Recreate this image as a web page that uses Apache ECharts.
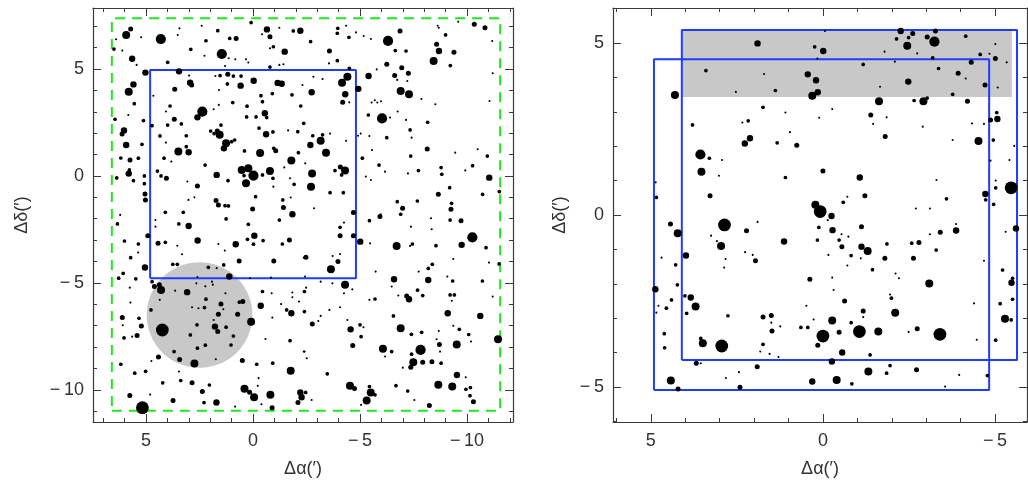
<!DOCTYPE html>
<html><head><meta charset="utf-8">
<script src="https://cdn.jsdelivr.net/npm/echarts@6/dist/echarts.min.js"></script>
<style>html,body{margin:0;padding:0;background:#fff}#c{width:1028px;height:487px}</style>
</head><body><div id="c"></div>
<script>
// ---- data: stars as [dAlpha, dDelta, brightnessClass] ----
const leftStars = [
[0.09,7.17,2],[5.72,6.87,3],[5.93,6.59,5],[3.44,6.90,1],[2.40,7.02,1],[1.65,6.79,2],[-0.65,6.85,4],[-1.23,6.93,1],[-1.88,6.78,2],[-2.21,6.79,4],[-0.79,6.51,3],[-0.42,6.62,1],[4.31,6.40,6],[5.23,6.48,1],[3.52,6.59,1],[2.20,6.32,2],[1.09,6.43,2],[0.79,6.43,3],[6.40,6.39,1],[6.50,5.93,2],[6.11,5.86,1],[2.91,5.92,2],[1.46,5.70,6],[1.14,5.50,1],[0.83,5.45,1],[0.33,5.45,1],[-0.95,6.04,2],[-0.79,5.97,1],[-1.48,5.81,4],[5.65,5.48,4],[5.44,5.19,1],[3.99,5.31,2],[2.27,5.62,1],[1.31,5.14,1],[0.22,5.30,1],[-0.79,5.09,2],[-1.23,5.19,1],[-1.42,5.22,1],[5.03,4.83,4],[3.46,4.89,4],[2.99,4.69,1],[1.76,4.67,1],[1.54,4.69,2],[1.18,4.75,3],[0.92,4.67,2],[0.56,4.67,2],[0.58,4.22,4],[-0.03,4.45,4],[-1.15,4.35,4],[-1.34,4.31,4],[-2.31,4.25,1],[2.94,4.36,4],[2.87,4.25,3],[5.59,4.28,4],[5.81,3.94,5],[4.66,3.75,1],[3.66,4.05,3],[1.20,4.30,2],[1.59,4.02,1],[-0.37,3.75,2],[-0.90,3.85,2],[-1.82,3.79,2],[-0.44,3.47,2],[0.95,3.43,2],[5.55,3.38,2],[5.83,2.85,1],[6.45,2.65,2],[3.88,3.27,2],[4.07,3.01,1],[2.37,3.01,6],[2.60,2.74,4],[2.24,2.93,2],[1.84,3.12,1],[1.60,3.32,1],[0.28,3.26,2],[-0.55,2.93,4],[-2.23,3.27,2],[5.12,2.59,2],[3.68,2.65,3],[3.99,2.38,2],[3.35,2.43,2],[0.30,2.76,2],[-0.14,2.76,2],[-0.64,2.73,2],[-2.37,2.46,2],[4.72,2.35,2],[6.03,2.13,4],[6.12,1.96,3],[1.50,2.38,2],[1.67,2.10,3],[1.56,1.92,5],[1.98,2.10,2],[1.82,1.98,2],[3.12,1.88,2],[4.35,1.87,2],[-0.28,2.24,2],[-0.61,1.95,4],[-0.93,2.06,2],[-1.64,2.13,1],[-2.09,2.07,2],[5.93,1.45,4],[5.19,1.48,2],[4.07,1.56,1],[1.26,1.53,5],[1.36,1.29,4],[1.00,1.60,2],[0.86,1.68,2],[3.49,1.14,5],[3.01,1.11,4],[3.12,1.37,2],[0.40,1.17,2],[-0.33,1.07,5],[-0.97,1.29,2],[-1.06,1.18,3],[-2.12,1.09,2],[6.18,0.84,2],[5.75,0.75,3],[5.36,0.83,2],[4.16,0.83,2],[3.82,0.67,1],[2.24,0.51,2],[-1.79,0.72,5],[-1.46,0.40,1],[0.53,0.28,5],[0.22,0.36,5],[-0.02,0.02,6],[0.33,-0.34,5],[0.42,0.02,2],[-0.79,0.23,5],[-0.44,0.05,2],[1.70,0.05,4],[4.47,0.23,2],[4.30,0.00,2],[4.05,-0.11,3],[5.81,0.11,4],[5.78,0.28,2],[5.59,-0.22,2],[6.37,-0.09,2],[5.08,0.00,2],[5.08,-0.36,2],[3.07,-0.26,1],[2.60,-0.47,3],[1.17,-0.22,2],[-0.93,-0.11,2],[-0.95,-0.50,1],[-1.73,-0.11,1],[-1.92,-0.39,2],[5.05,-0.84,3],[5.03,-1.12,3],[3.02,-1.12,1],[2.74,-1.00,1],[1.73,-1.15,3],[1.62,-1.36,3],[1.31,-1.39,2],[1.15,-1.40,2],[-0.12,-0.97,2],[-1.39,-1.12,2],[-1.76,-1.01,1],[0.02,-1.54,3],[-1.42,-1.48,3],[-1.84,-1.79,4],[4.10,-1.70,2],[3.26,-1.70,2],[6.21,-1.82,1],
[-3.96,6.90,2],[-3.94,6.67,2],[-4.35,7.02,1],[-4.81,6.71,1],[-4.48,6.48,2],[-5.17,6.54,1],[-5.51,6.40,1],[-6.87,6.78,3],[-6.31,6.31,6],[-2.69,6.28,2],[-8.63,7.02,1],[-8.68,6.93,1],[-10.34,7.09,3],[-10.84,6.93,3],[-9.59,7.21,1],[-9.00,6.59,2],[-11.18,6.31,1],[-3.57,5.84,3],[-6.65,5.86,2],[-7.15,5.84,2],[-8.58,6.15,3],[-8.69,5.84,4],[-9.39,5.78,3],[-3.94,5.39,2],[-3.55,5.26,1],[-6.25,5.22,3],[-8.44,5.37,5],[-9.22,5.16,2],[-4.50,5.03,2],[-5.78,4.98,1],[-6.95,5.06,3],[-4.41,4.64,5],[-4.16,4.36,5],[-2.82,4.64,1],[-3.25,4.53,1],[-5.40,4.67,4],[-6.62,4.69,3],[-7.26,4.80,3],[-6.74,4.49,1],[-7.21,4.44,1],[-11.20,4.80,1],[-4.92,4.07,4],[-2.74,3.91,4],[-4.31,3.82,4],[-6.90,3.97,5],[-7.29,3.82,5],[-4.19,3.44,3],[-4.50,3.44,1],[-5.54,3.43,1],[-5.69,3.54,1],[-5.81,3.43,1],[-5.98,3.49,1],[-7.87,3.60,1],[-8.52,3.35,1],[-11.05,3.50,1],[-5.39,2.85,2],[-6.03,2.69,6],[-6.40,2.73,1],[-6.76,3.01,1],[-7.15,2.62,1],[-8.16,2.51,2],[-7.34,2.15,2],[-2.79,1.88,2],[-3.25,1.92,2],[-3.60,1.98,1],[-3.16,1.64,5],[-2.68,1.45,4],[-3.41,1.09,5],[-4.91,1.88,1],[-5.03,1.98,1],[-5.44,1.87,1],[-4.35,1.64,1],[-6.25,1.79,2],[-7.41,1.79,1],[-5.56,1.21,1],[-5.11,0.83,2],[-7.37,0.93,2],[-8.14,1.26,3],[-9.45,1.09,1],[-10.50,1.25,1],[-10.95,0.93,2],[-2.44,0.59,1],[-2.76,0.12,5],[-3.83,0.25,2],[-4.08,0.42,3],[-4.30,0.25,5],[-4.14,0.05,2],[-5.89,0.51,2],[-6.17,0.20,1],[-5.27,-0.03,1],[-5.51,-0.19,1],[-7.24,0.12,1],[-7.73,0.25,2],[-8.79,0.39,2],[-8.82,0.08,2],[-9.92,0.26,1],[-10.26,0.48,2],[-11.04,-0.08,4],[-11.51,-0.73,2],[-2.71,-0.50,5],[-3.60,-0.78,2],[-4.22,-0.78,2],[-9.19,-0.55,2],[-8.66,-0.86,3],[-10.73,-0.86,2],[-6.74,-1.20,2],[-6.99,-1.51,3],[-7.68,-1.17,2],[-9.28,-1.28,2],[-9.25,-1.56,3],[-2.85,-1.51,1],[-4.69,-1.71,3],[-5.97,-1.79,1],[-6.90,-1.79,2],
[6.34,-2.24,2],[4.56,-2.06,1],[3.47,-2.24,2],[3.01,-2.34,4],[1.26,-2.01,2],[0.22,-2.26,2],[-1.23,-2.06,2],[4.56,-2.37,1],[4.92,-2.79,3],[6.01,-3.04,2],[5.36,-3.18,2],[5.37,-3.58,1],[4.44,-3.15,3],[4.10,-3.10,2],[3.54,-3.26,1],[2.59,-3.02,4],[1.62,-3.18,1],[0.81,-3.19,4],[0.26,-2.96,2],[-0.02,-3.19,2],[-0.47,-3.02,2],[-0.06,-2.79,4],[-1.37,-3.18,2],[-1.70,-2.99,3],[1.32,-3.49,1],[3.32,-3.66,1],[5.72,-3.82,2],[3.75,-4.13,2],[3.54,-4.13,2],[5.05,-4.28,4],[6.07,-4.55,2],[6.28,-4.78,2],[5.48,-4.81,2],[0.65,-3.97,3],[-0.97,-3.98,3],[-2.37,-3.82,1],[2.09,-4.27,2],[1.70,-4.31,1],[1.37,-4.16,2],[1.11,-4.70,4],[0.14,-4.78,1],[-0.84,-4.75,1],[4.72,-4.94,2],[4.61,-5.17,3],[4.38,-5.08,3],[4.30,-5.33,5],[5.73,-5.92,1],[5.76,-5.22,1],[3.64,-5.36,1],[3.08,-5.43,4],[2.60,-4.72,1],[2.65,-5.02,1],[2.23,-5.16,1],[1.92,-4.94,1],[1.88,-5.08,1],[1.29,-5.48,1],[2.20,-5.76,2],[1.50,-5.99,3],[1.39,-6.23,1],[2.27,-6.15,2],[2.55,-6.18,1],[2.85,-6.14,1],[4.77,-6.26,2],[4.36,-5.79,1],[1.62,-6.46,3],[1.84,-6.73,1],[0.72,-6.46,3],[0.64,-5.90,2],[0.48,-5.87,3],[-0.36,-6.07,4],[-0.44,-5.40,2],[-0.87,-5.48,1],[-1.31,-5.99,1],[-1.57,-6.26,2],[-1.79,-6.42,4],[-1.84,-5.45,1],[-1.84,-5.67,1],[-2.15,-5.87,1],[0.09,-6.82,5],[-0.90,-6.62,1],[6.11,-6.61,3],[5.33,-6.65,2],[6.09,-6.98,1],[5.22,-7.01,3],[4.24,-7.20,7],[6.03,-7.57,2],[5.65,-7.51,1],[5.42,-7.46,3],[1.78,-7.04,4],[1.65,-7.27,3],[1.26,-7.07,2],[2.62,-6.96,2],[2.93,-7.43,2],[0.92,-7.48,2],[1.03,-7.90,2],[2.23,-7.91,2],[2.60,-8.05,2],[3.69,-8.21,2],[4.42,-8.46,3],[4.75,-8.65,1],[3.43,-8.58,3],[2.74,-8.76,5],[1.74,-8.57,1],[0.50,-8.63,3],[-0.58,-7.62,1],[-1.73,-7.70,2],[-0.92,-8.75,2],[-0.17,-8.80,2],[-1.76,-9.10,5],[-2.37,-8.21,1],[6.18,-8.80,2],[5.53,-9.22,2],[5.02,-9.13,2],[4.22,-9.67,2],[3.46,-9.14,1],[3.38,-9.56,2],[2.85,-9.67,3],[2.04,-9.77,2],[2.37,-10.08,3],[4.81,-10.22,1],[5.76,-10.26,3],[3.74,-10.50,3],[2.29,-10.59,2],[1.71,-10.59,4],[0.84,-10.78,1],[0.40,-9.95,5],[0.16,-10.11,3],[-0.05,-10.34,5],[-0.26,-9.45,1],[-0.22,-9.81,1],[-0.81,-10.23,5],[-0.39,-10.67,1],[-0.89,-10.83,3],[-2.21,-10.12,4],[-2.27,-10.34,4],[-2.10,-10.59,3],[5.17,-10.83,7],
[-5.93,-1.90,3],[-5.44,-2.09,2],[-8.32,-1.98,1],[-9.21,-2.06,2],[-9.72,-2.09,3],[-4.07,-2.40,2],[-4.25,-2.18,1],[-7.38,-2.37,1],[-8.35,-2.49,1],[-4.07,-2.80,3],[-4.69,-2.80,3],[-5.01,-3.07,4],[-6.71,-3.27,5],[-7.45,-3.18,2],[-7.34,-3.27,1],[-8.55,-3.26,2],[-9.75,-3.22,4],[-10.25,-2.87,6],[-10.89,-3.35,2],[-5.47,-3.15,1],[-2.47,-3.80,3],[-3.72,-3.74,1],[-4.07,-3.65,1],[-3.97,-4.00,3],[-3.64,-4.36,5],[-8.19,-4.32,2],[-8.38,-4.13,2],[-7.74,-4.47,1],[-5.73,-4.47,1],[-9.36,-3.88,1],[-11.03,-4.05,1],[-11.50,-4.11,2],[-2.43,-4.70,1],[-3.16,-4.94,1],[-3.71,-5.02,1],[-4.30,-5.09,5],[-4.64,-5.30,1],[-6.59,-4.83,4],[-8.19,-4.86,4],[-9.08,-4.70,1],[-9.33,-4.91,2],[-10.72,-4.91,2],[-2.40,-5.40,2],[-2.48,-5.22,1],[-4.25,-5.48,1],[-6.48,-5.17,1],[-7.69,-5.34,2],[-7.93,-5.59,2],[-6.79,-5.59,1],[-7.18,-5.61,3],[-7.29,-5.76,4],[-5.70,-5.75,2],[-5.44,-5.79,1],[-9.21,-5.56,2],[-9.41,-5.56,2],[-9.29,-5.83,1],[-11.20,-5.64,1],[-2.40,-6.34,2],[-4.07,-6.14,1],[-3.57,-6.26,1],[-3.16,-6.54,1],[-3.05,-6.78,1],[-2.77,-6.92,3],[-4.41,-6.73,1],[-6.56,-6.54,2],[-9.10,-6.42,4],[-10.62,-6.54,4],[-4.56,-7.17,4],[-5.00,-6.96,2],[-5.16,-7.07,1],[-5.05,-7.51,2],[-6.90,-7.12,5],[-7.40,-7.40,2],[-7.88,-7.31,2],[-8.68,-7.25,1],[-9.36,-7.00,1],[-9.64,-7.17,2],[-10.08,-7.41,2],[-10.19,-7.74,1],[-11.45,-7.63,5],[-4.66,-7.93,3],[-6.07,-8.08,5],[-6.48,-8.21,2],[-6.17,-8.44,1],[-7.83,-8.13,6],[-7.41,-8.33,2],[-8.71,-7.88,3],[-8.58,-7.63,1],[-8.74,-8.21,1],[-9.52,-7.88,5],[-2.41,-8.21,1],[-2.51,-8.52,1],[-7.49,-8.71,5],[-7.37,-8.94,3],[-7.93,-8.71,3],[-8.36,-8.68,3],[-8.79,-8.75,2],[-7.00,-8.96,1],[-3.47,-9.25,2],[-9.53,-9.30,4],[-9.94,-9.41,1],[-4.53,-9.80,5],[-4.74,-9.93,3],[-5.44,-9.84,2],[-5.50,-10.12,5],[-5.70,-10.23,2],[-5.31,-10.50,5],[-5.05,-10.70,1],[-6.68,-9.80,2],[-7.23,-10.05,2],[-7.54,-10.47,1],[-8.66,-9.76,5],[-9.31,-9.84,5],[-9.95,-9.97,2],[-10.16,-9.89,2],[-10.14,-10.27,2],[-10.30,-10.55,3],[-8.24,-10.73,3],[-2.46,-10.12,2],[-2.74,-10.47,1]
];
const rightStars = [
[0.08,0.10,7],[0.22,0.30,5],[-0.25,-0.03,4],
[1.90,4.99,4],[0.24,4.89,2],[0.16,4.55,1],[3.40,4.20,2],[1.71,4.10,1],[0.44,4.09,4],[0.20,3.92,4],[2.53,3.58,1],[1.38,3.62,2],[0.31,3.47,5],[0.15,3.57,4],[4.30,3.49,5],[1.74,3.13,2],[1.09,2.98,1],[0.11,2.83,1],[3.79,2.62,2],[2.34,2.69,1],[2.17,2.74,2],[0.96,2.41,1],[2.12,2.23,4],[2.27,2.08,4],[1.33,2.10,2],[0.76,2.03,3],[3.56,1.76,6],[3.30,1.65,2],[2.93,1.60,1],[3.53,1.26,5],[3.02,1.14,1],[1.09,1.09,2],[4.84,0.51,2],[3.28,0.56,3],[4.86,0.95,1],
[-2.26,5.35,4],[-3.27,5.35,3],[-0.06,5.35,1],[-2.14,5.12,2],[-2.49,5.16,2],[-2.61,5.28,3],[-3.03,5.18,3],[-3.24,5.04,6],[-2.45,4.92,5],[-4.15,5.20,2],[-0.01,4.77,4],[-1.79,4.75,1],[-2.74,4.70,1],[-5.01,4.97,1],[-4.57,4.67,2],[-4.84,4.69,1],[-5.01,4.55,3],[-5.34,4.44,1],[-4.31,4.44,3],[-3.19,4.57,2],[-2.09,4.46,1],[-1.17,4.38,2],[-3.36,4.26,2],[-3.93,4.12,3],[-4.15,3.97,1],[-2.48,3.88,4],[-4.71,3.78,3],[-5.08,3.71,1],[-1.66,3.73,1],[-3.77,3.51,2],[-1.63,3.31,5],[-2.65,3.33,2],[-2.92,3.31,5],[-3.03,3.40,2],[-4.20,3.31,3],[-0.27,3.08,1],[-1.39,2.91,3],[-1.46,2.65,1],[-1.85,2.84,1],[-2.90,2.57,1],[-4.33,2.66,1],[-4.68,2.65,1],[-4.87,2.76,3],[-5.05,2.98,2],[-5.07,2.79,4],[-1.81,2.28,3],[-3.77,2.18,1],[-4.52,2.15,5],[-4.95,2.18,2],[-5.56,2.01,1],[-5.42,1.60,1],[-4.87,1.58,1],[0.00,1.28,3],[-1.07,1.09,4],[-3.30,1.02,1],[-5.02,1.00,1],[-5.02,0.79,2],[-5.47,0.79,7],[-1.22,0.56,3],[-0.71,0.53,1],[-0.59,0.37,2],[-3.59,0.47,2],[-4.72,0.61,4],[-4.73,0.44,2],[-4.96,0.31,2],[-2.70,0.19,1],[-3.11,0.19,1],
[2.86,-0.29,7],[4.43,-0.26,3],[4.22,-0.53,5],[1.90,-0.20,1],[2.22,-0.46,3],[1.13,-0.77,4],[3.25,-0.60,1],[3.08,-0.76,1],[2.96,-0.90,5],[3.98,-1.18,4],[4.69,-1.24,1],[4.28,-1.45,2],[2.83,-1.28,1],[2.87,-1.53,1],[2.26,-1.08,1],[2.04,-1.16,1],[1.96,-1.33,3],[0.12,-0.36,2],[0.16,-0.73,2],[0.38,-1.87,3],[4.23,-2.03,2],[4.87,-2.16,4],[4.40,-2.47,2],[4.55,-2.71,2],[4.78,-2.64,1],[4.84,-2.84,1],[4.01,-2.35,2],[3.84,-2.40,4],[3.70,-2.66,5],[3.96,-2.86,2],[2.76,-2.93,2],[1.74,-2.97,3],[1.50,-2.92,3],[1.50,-3.13,1],[1.24,-3.24,1],[1.48,-3.37,3],[0.48,-2.64,1],[0.27,-3.04,1],[0.64,-3.27,2],[0.44,-3.27,2],[0.15,-3.79,3],[4.61,-3.45,2],[4.60,-3.86,2],[3.55,-3.59,2],[3.49,-3.73,5],[2.94,-3.81,7],[1.74,-3.76,2],[1.82,-3.97,1],[1.55,-4.04,1],[1.29,-4.13,1],[3.68,-4.31,3],[3.55,-4.31,1],[1.91,-4.41,3],[2.44,-4.57,1],[2.82,-4.74,1],[4.42,-4.81,5],[4.21,-5.06,3],[2.41,-5.01,3],[0.31,-4.84,4],
[-0.14,-0.15,1],[-0.28,-0.44,4],[-1.12,-0.34,3],[-0.54,-0.56,1],[-0.74,-0.63,1],[-0.47,-0.73,2],[-0.55,-0.92,3],[-0.82,-1.18,2],[-1.12,-0.92,4],[-1.30,-1.05,5],[-1.10,-1.26,1],[-0.71,-1.47,1],[-0.16,-1.16,1],[-1.86,-0.84,2],[-2.58,-0.82,2],[-2.79,-0.80,3],[-1.80,-1.26,3],[-2.63,-1.26,3],[-3.11,-0.56,1],[-3.41,-0.50,3],[-3.87,-0.26,1],[-3.87,-0.45,4],[-3.29,-1.02,2],[-1.44,-1.59,2],[-0.27,-1.82,1],[-2.11,-1.70,1],[-2.21,-1.84,1],[-3.09,-1.99,5],[-4.68,-1.33,1],[-5.22,-1.60,2],[-5.51,-1.84,2],[-5.48,-1.97,4],[-5.31,-0.49,1],[-5.61,-0.39,4],[-0.31,-2.18,1],[-0.63,-2.50,3],[-1.95,-2.31,1],[-1.99,-2.42,2],[-1.17,-2.79,3],[-1.17,-2.97,1],[-0.82,-3.13,2],[-0.27,-3.07,5],[-2.10,-2.84,5],[-4.39,-2.57,1],[-5.15,-2.58,2],[-5.51,-2.45,2],[-5.29,-3.02,5],[-5.47,-3.05,2],[0.00,-3.52,7],[-0.47,-3.41,3],[-1.06,-3.39,7],[-1.61,-3.39,5],[-2.49,-3.40,1],[-2.74,-3.31,3],[-3.40,-3.47,7],[-4.47,-3.63,1],[-5.02,-3.64,2],[-0.56,-4.00,4],[-1.37,-4.07,2],[-0.26,-4.26,4],[-1.95,-4.38,2],[-1.32,-4.55,5],[-1.85,-4.60,2],[-2.72,-4.50,3],[-3.96,-4.65,1],[-4.78,-4.67,2],[-0.40,-4.80,5],[-0.84,-4.91,2],[-3.55,-4.99,1]
];
// overlays: boxes [aMax, aMin, dMin, dMax]
const leftOuterBox = [6.60, -11.55, -10.98, 7.37];
const leftInnerBox = [4.81, -4.81, -4.78, 4.95];
const leftCircle = [2.50, -6.50, 2.47]; // center a, center d, radius
const rightBoxA = [4.91, -4.83, -5.09, 4.53];
const rightBoxB = [4.10, -5.64, -4.22, 5.38];
const rightShade = [4.10, -5.49, 3.43, 5.38];
// axes
const leftX = [-12.15, 7.48], leftY = [-11.50, 7.85];
const rightX = [-5.93, 6.10], rightY = [-6.02, 6.02];
const leftXMajor = [5, 0, -5, -10];
const leftYMajor = [5, 0, -5, -10];
const leftXMinor = [7,6,5,4,3,2,1,0,-1,-2,-3,-4,-5,-6,-7,-8,-9,-10,-11,-12];
const leftYMinor = [7,6,5,4,3,2,1,0,-1,-2,-3,-4,-5,-6,-7,-8,-9,-10,-11];
const rightXMajor = [5, 0, -5];
const rightYMajor = [5, 0, -5];
const rightXMinor = [6,5,4,3,2,1,0,-1,-2,-3,-4,-5];
const rightYMinor = [6,5,4,3,2,1,0,-1,-2,-3,-4,-5,-6];

const sizeOf = {1:2.1, 2:3.7, 3:5, 4:6.4, 5:8, 6:10.2, 7:12.8};
const AX = '#3a3a3a';
const FONT = 'Liberation Sans';
const fmt = v => v < 0 ? '\u2212\u2009' + (-v) : String(v);

function xAxes(g, range, major, minor, withName) {
  const base = {gridIndex: g, type: 'value', min: range[0], max: range[1], inverse: true, splitLine: {show: false}};
  return [
    Object.assign({}, base, {position: 'bottom',
      axisLine: {show: true, onZero: false, lineStyle: {color: AX, width: 1.2}},
      axisTick: {show: true, inside: true, length: 8, customValues: major, lineStyle: {color: AX, width: 1}},
      axisLabel: {show: true, customValues: major, formatter: fmt, fontFamily: FONT, fontSize: 18, color: '#333', margin: 10},
      name: withName, nameLocation: 'middle', nameGap: 38,
      nameTextStyle: {fontFamily: FONT, fontSize: 18, color: '#333'}}),
    Object.assign({}, base, {position: 'top',
      axisLine: {show: true, onZero: false, lineStyle: {color: AX, width: 1.2}},
      axisTick: {show: true, inside: true, length: 8, customValues: major, lineStyle: {color: AX}},
      axisLabel: {show: false}}),
    Object.assign({}, base, {position: 'bottom',
      axisLine: {show: false, onZero: false},
      axisTick: {show: true, inside: true, length: 4, customValues: minor, lineStyle: {color: AX}},
      axisLabel: {show: false}}),
    Object.assign({}, base, {position: 'top',
      axisLine: {show: false, onZero: false},
      axisTick: {show: true, inside: true, length: 4, customValues: minor, lineStyle: {color: AX}},
      axisLabel: {show: false}})
  ];
}
function yAxes(g, range, major, minor, withName, gap) {
  const base = {gridIndex: g, type: 'value', min: range[0], max: range[1], splitLine: {show: false}};
  return [
    Object.assign({}, base, {position: 'left',
      axisLine: {show: true, onZero: false, lineStyle: {color: AX, width: 1.2}},
      axisTick: {show: true, inside: true, length: 8, customValues: major, lineStyle: {color: AX}},
      axisLabel: {show: true, customValues: major, formatter: fmt, fontFamily: FONT, fontSize: 18, color: '#333', margin: 9},
      name: withName, nameLocation: 'middle', nameGap: gap, nameRotate: 90,
      nameTextStyle: {fontFamily: FONT, fontSize: 18, color: '#333'}}),
    Object.assign({}, base, {position: 'right',
      axisLine: {show: true, onZero: false, lineStyle: {color: AX, width: 1.2}},
      axisTick: {show: true, inside: true, length: 8, customValues: major, lineStyle: {color: AX}},
      axisLabel: {show: false}}),
    Object.assign({}, base, {position: 'left',
      axisLine: {show: false, onZero: false},
      axisTick: {show: true, inside: true, length: 4, customValues: minor, lineStyle: {color: AX}},
      axisLabel: {show: false}}),
    Object.assign({}, base, {position: 'right',
      axisLine: {show: false, onZero: false},
      axisTick: {show: true, inside: true, length: 4, customValues: minor, lineStyle: {color: AX}},
      axisLabel: {show: false}})
  ];
}

function boxLine(b) {
  return [[b[0], b[2]], [b[1], b[2]], [b[1], b[3]], [b[0], b[3]], [b[0], b[2]]];
}
function starSeries(data, xi, yi) {
  return {type: 'scatter', xAxisIndex: xi, yAxisIndex: yi, z: 5, silent: true,
    data: data, symbol: 'circle', symbolSize: d => sizeOf[d[2]],
    itemStyle: {color: '#000', opacity: 1}};
}

const chart = echarts.init(document.getElementById('c'), null, {renderer: 'canvas'});
chart.setOption({
  animation: false,
  backgroundColor: '#fff',
  grid: [
    {left: 93, top: 8, width: 420, height: 414},
    {left: 613, top: 8, width: 414, height: 414}
  ],
  xAxis: [].concat(xAxes(0, leftX, leftXMajor, leftXMinor, 'Δα(′)'), xAxes(1, rightX, rightXMajor, rightXMinor, 'Δα(′)')),
  yAxis: [].concat(yAxes(0, leftY, leftYMajor, leftYMinor, 'Δδ(′)', 62), yAxes(1, rightY, rightYMajor, rightYMinor, 'Δδ(′)', 44)),
  series: [
    {type: 'custom', xAxisIndex: 0, yAxisIndex: 0, z: 1, silent: true, data: [leftCircle],
      renderItem: function (params, api) {
        const c = api.coord([api.value(0), api.value(1)]);
        const r = api.size([api.value(2), 0])[0];
        return {type: 'circle', shape: {cx: c[0], cy: c[1], r: r}, style: {fill: '#c8c8c8'}};
      }},
    {type: 'custom', xAxisIndex: 4, yAxisIndex: 4, z: 1, silent: true, data: [rightShade],
      renderItem: function (params, api) {
        const p1 = api.coord([api.value(0), api.value(3)]);
        const p2 = api.coord([api.value(1), api.value(2)]);
        return {type: 'rect', shape: {x: p1[0], y: p1[1], width: p2[0] - p1[0], height: p2[1] - p1[1]}, style: {fill: '#c8c8c8'}};
      }},
    {type: 'line', xAxisIndex: 0, yAxisIndex: 0, z: 3, silent: true, data: boxLine(leftOuterBox), symbol: 'none',
      lineStyle: {color: '#1ee81e', width: 2, type: [10, 7]}},
    {type: 'line', xAxisIndex: 0, yAxisIndex: 0, z: 3, silent: true, data: boxLine(leftInnerBox), symbol: 'none',
      lineStyle: {color: '#1f3dff', width: 2}},
    {type: 'line', xAxisIndex: 4, yAxisIndex: 4, z: 3, silent: true, data: boxLine(rightBoxA), symbol: 'none',
      lineStyle: {color: '#1f3dff', width: 2}},
    {type: 'line', xAxisIndex: 4, yAxisIndex: 4, z: 3, silent: true, data: boxLine(rightBoxB), symbol: 'none',
      lineStyle: {color: '#1f3dff', width: 2}},
    starSeries(leftStars, 0, 0),
    starSeries(rightStars, 4, 4)
  ]
});
</script></body></html>
